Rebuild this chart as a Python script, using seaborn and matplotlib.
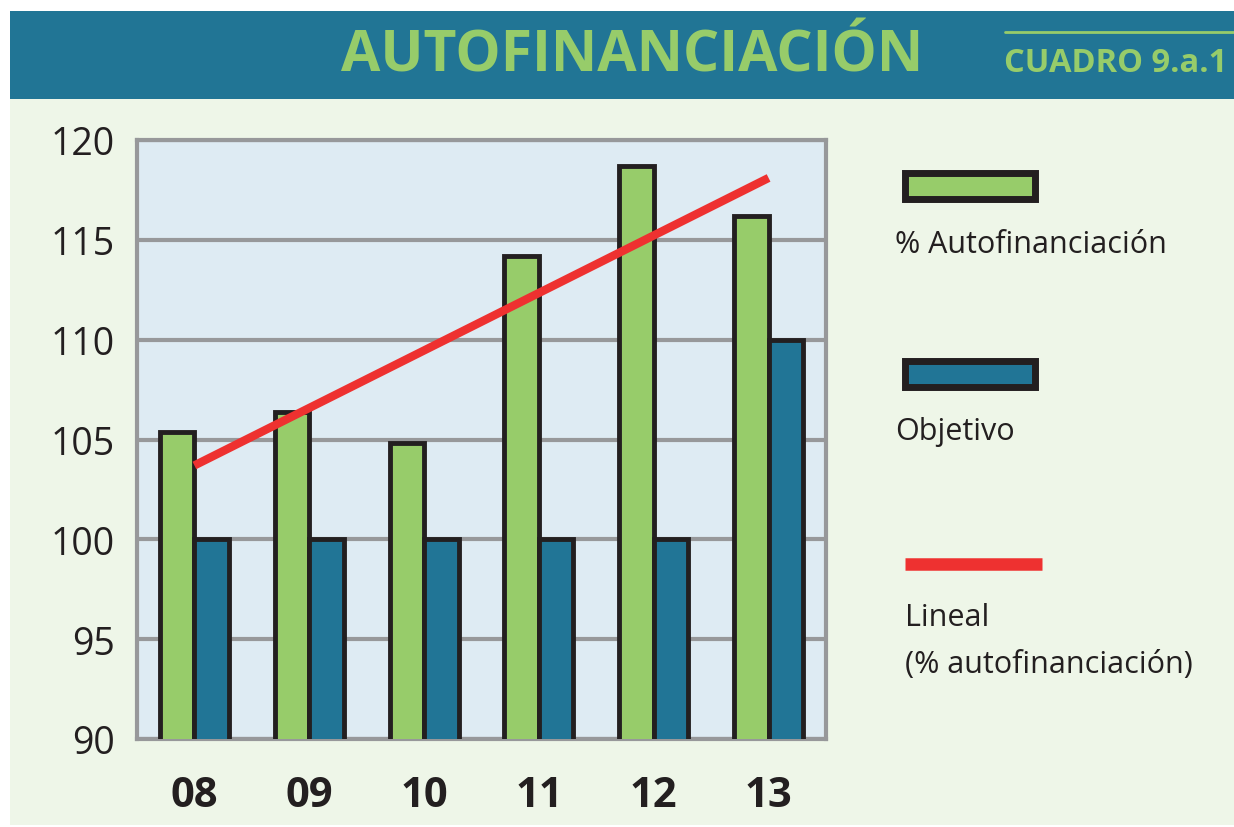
import pandas as pd
import seaborn as sns
import matplotlib.pyplot as plt
from matplotlib.patches import Rectangle
from matplotlib.lines import Line2D

# Data
anios = ['08', '09', '10', '11', '12', '13']
autofinanciacion = [105.4, 106.4, 104.8, 114.2, 118.7, 116.2]
objetivo = [100, 100, 100, 100, 100, 110]
lineal = [103.7, 118.1]  # trend line, first and last year
y_ticks = [90, 95, 100, 105, 110, 115, 120]

verde = '#97cc6a'
azul = '#217596'
rojo = '#ee3130'
teal = '#217595'
fondo = '#eef6e8'
gris = '#97989a'
negro = '#231f20'

data = pd.DataFrame({
    'anio': anios * 2,
    'valor': autofinanciacion + objetivo,
    'serie': ['% Autofinanciación'] * 6 + ['Objetivo'] * 6,
})

sns.set_style('white')
plt.rcParams['font.family'] = ['Open Sans', 'DejaVu Sans']

fig = plt.figure(figsize=(12.34, 8.28), dpi=100, facecolor='white')

# Background panels
fig.add_artist(Rectangle((10 / 1234, 2 / 828), 1, 1 - 2 / 828 - 100 / 828,
                         transform=fig.transFigure, facecolor=fondo, edgecolor='none', zorder=0))
fig.add_artist(Rectangle((10 / 1234, 1 - 100 / 828), 1, 88 / 828,
                         transform=fig.transFigure, facecolor=teal, edgecolor='none', zorder=0))

# Header text
fig.text(632 / 1234, 1 - 56 / 828, 'AUTOFINANCIACIÓN', color=verde, fontsize=41,
         fontweight='bold', ha='center', va='center')
fig.text(1004 / 1234, 1 - 63 / 828, 'CUADRO 9.a.1', color=verde, fontsize=23.5,
         fontweight='bold', ha='left', va='center')
fig.add_artist(Line2D([1005 / 1234, 1], [1 - 33 / 828, 1 - 33 / 828],
                      transform=fig.transFigure, color=verde, lw=2))

ax = fig.add_axes([137 / 1234, 1 - 740 / 828, 689 / 1234, 599 / 828])
ax.set_facecolor('#deebf3')

sns.barplot(data=data, x='anio', y='valor', hue='serie', order=anios,
            palette=[verde, azul], width=0.6, edgecolor=negro, linewidth=3.5,
            saturation=1, legend=False, ax=ax, zorder=3)

ax.plot([0, len(anios) - 1], lineal, color=rojo, lw=6, zorder=5,
        solid_capstyle='butt')

ax.set_ylim(90, 120)
ax.set_xlim(-0.5, len(anios) - 0.5)
ax.set_yticks(y_ticks)
ax.set_yticklabels([str(t) for t in y_ticks], fontsize=27, color=negro)
ax.set_xticklabels(anios, fontsize=30, fontweight='bold', color=negro)
ax.set_xlabel('')
ax.set_ylabel('')
ax.yaxis.grid(True, color=gris, lw=3, zorder=0)
ax.set_axisbelow(True)
ax.tick_params(axis='y', length=12, width=3, color=gris, pad=4, direction='out')
ax.tick_params(axis='x', length=0, pad=26)
for s in ax.spines.values():
    s.set_color(gris)
    s.set_linewidth(3)

# Legend drawn by hand
def parche(y, color):
    fig.add_artist(Rectangle((905 / 1234, 1 - y / 828 - 13 / 828), 130 / 1234, 26 / 828,
                             transform=fig.transFigure, facecolor=color,
                             edgecolor=negro, lw=5, zorder=4))

parche(187, verde)
fig.text(895 / 1234, 1 - 245 / 828, '% Autofinanciación', fontsize=22,
         color=negro, ha='left', va='center')
parche(375, azul)
fig.text(895 / 1234, 1 - 432 / 828, 'Objetivo', fontsize=22,
         color=negro, ha='left', va='center')
fig.add_artist(Line2D([905 / 1234, 1042 / 1234], [1 - 565 / 828, 1 - 565 / 828],
                      transform=fig.transFigure, color=rojo, lw=9, solid_capstyle='butt'))
fig.text(905 / 1234, 1 - 618 / 828, 'Lineal', fontsize=22,
         color=negro, ha='left', va='center')
fig.text(905 / 1234, 1 - 665 / 828, '(% autofinanciación)', fontsize=22,
         color=negro, ha='left', va='center')

plt.savefig('out.png', dpi=100, facecolor='white')
